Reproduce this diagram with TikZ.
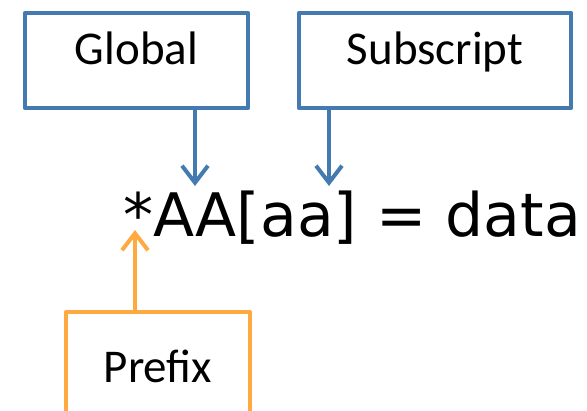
\documentclass[tikz,border=0pt]{standalone}
\usepackage{fontspec}
\setmainfont{Carlito}
\newfontfamily\codefont{DejaVu Sans}
\usetikzlibrary{arrows.meta,positioning,calc}
\definecolor{fieldblue}{RGB}{68,122,176}
\definecolor{fieldorange}{RGB}{255,170,64}
\tikzset{
    field/.style={rectangle, draw=fieldblue, line width=4.5pt, line join=round, minimum height=95pt, text height=1em, text depth=0.13em, font=\fontsize{47}{56}\selectfont},
    line/.style={draw=fieldblue, line width=4pt, -{Straight Barb[length=17pt, width=26pt]}},
    code/.style={inner sep=0pt, font=\codefont\fontsize{60}{72}\selectfont}
}

\begin{document}
\begin{tikzpicture}[x=1pt, y=-1pt]
    \useasboundingbox (0,0) rectangle (587,411);
    \clip (0,0) rectangle (587,411);

    % The statement itself
    \node [code, anchor=base west] (expr) at (123,237) {*AA[aa] = data};

    % Name parts above
    \node [field, minimum width=223pt] (global) at ([shift={(13.5,-176.5)}]expr.base west) {Global};
    \node [field, minimum width=272pt] (subscript) at ([shift={(312,-176.5)}]expr.base west) {Subscript};

    % Prefix below, runs off the bottom
    \node [field, draw=fieldorange, minimum width=184pt, minimum height=140pt, text depth=1em, anchor=north] (prefix) at ([shift={(35,73)}]expr.base west) {Prefix};

    % Arrow ends
    \coordinate (globaltip) at ([shift={(72,-51)}]expr.base west);
    \coordinate (subtip) at ([shift={(206,-51)}]expr.base west);
    \coordinate (prefixtip) at ([shift={(12,-7)}]expr.base west);

    % Connections
    \path [line] (globaltip |- global.south) -- (globaltip);
    \path [line] (subtip |- subscript.south) -- (subtip);
    \path [line, draw=fieldorange] (prefixtip |- prefix.north) -- (prefixtip);
\end{tikzpicture}
\end{document}
